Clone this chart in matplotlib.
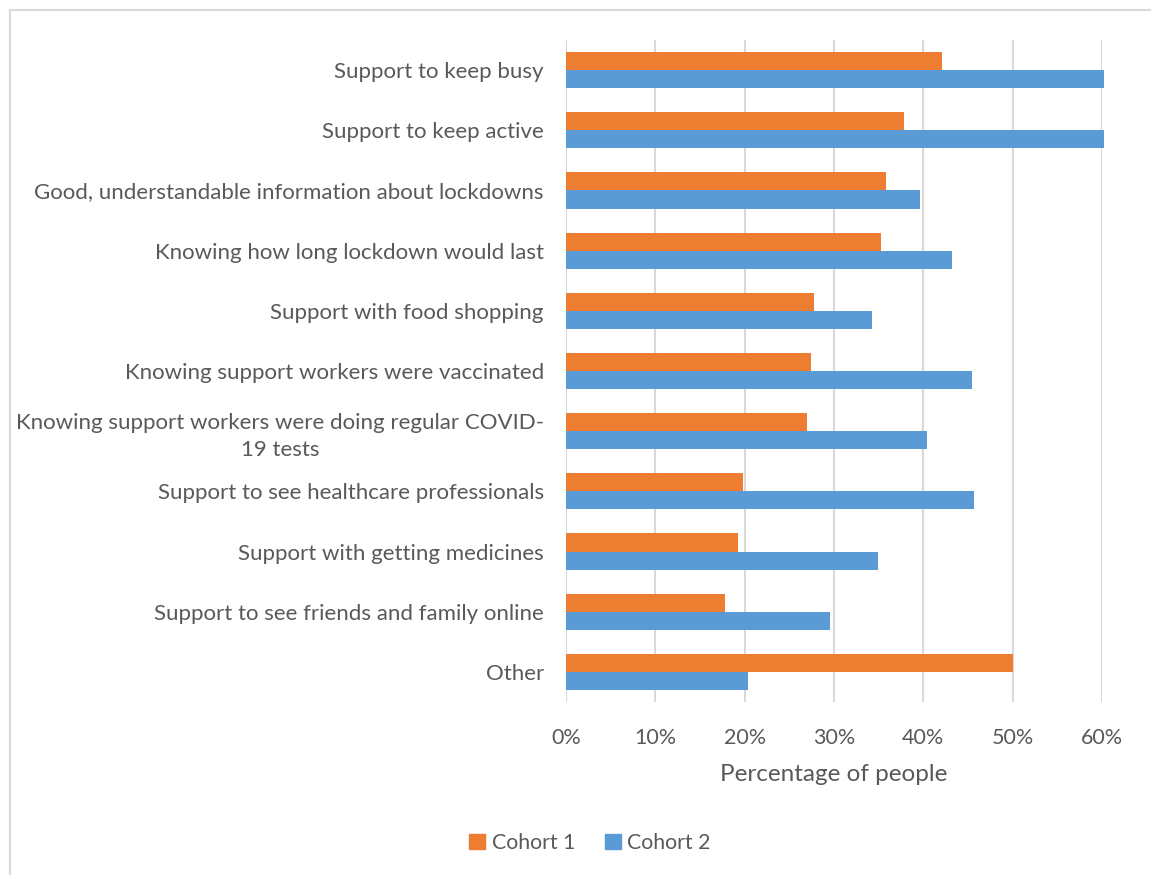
import matplotlib
matplotlib.use("Agg")
import matplotlib.pyplot as plt
from matplotlib.lines import Line2D
from matplotlib.patches import Patch
import numpy as np

categories = [
    "Support to keep busy",
    "Support to keep active",
    "Good, understandable information about lockdowns",
    "Knowing how long lockdown would last",
    "Support with food shopping",
    "Knowing support workers were vaccinated",
    "Knowing support workers were doing regular COVID-\n19 tests",
    "Support to see healthcare professionals",
    "Support with getting medicines",
    "Support to see friends and family online",
    "Other",
]
cohort1 = [42.1, 37.8, 35.8, 35.3, 27.8, 27.4, 27.0, 19.8, 19.2, 17.8, 50.0]
cohort2 = [60.2, 60.2, 39.6, 43.2, 34.3, 45.4, 40.4, 45.7, 34.9, 29.6, 20.4]
xticks = [0, 10, 20, 30, 40, 50, 60]
xtick_labels = ["0%", "10%", "20%", "30%", "40%", "50%", "60%"]
series_names = ["Cohort 1", "Cohort 2"]

ORANGE = "#ED7D31"
BLUE = "#5B9BD5"
TXT = "#595959"
GRID = "#D9D9D9"

plt.rcParams["font.family"] = ["Lato", "DejaVu Sans"]

W, H = 1151, 875
fig = plt.figure(figsize=(W / 100, H / 100), dpi=100)
ax = fig.add_axes([566 / W, 1 - 702 / H, (1102 - 566) / W, (702 - 40) / H])

y = np.arange(len(categories))
h = 0.3
ax.barh(y - h / 2, cohort1, height=h, color=ORANGE, zorder=3, clip_on=False)
ax.barh(y + h / 2, cohort2, height=h, color=BLUE, zorder=3, clip_on=False)

ax.set_xlim(0, 60)
ax.set_ylim(len(categories) - 0.5, -0.5)
ax.set_xticks(xticks)
ax.set_xticklabels(xtick_labels)
ax.set_yticks(y)
ax.set_yticklabels(categories, multialignment="center", linespacing=1.45)
ax.tick_params(axis="y", length=0, labelsize=16, colors=TXT, pad=16)
ax.tick_params(axis="x", length=0, labelsize=15.5, colors=TXT, pad=19)
for s in ax.spines.values():
    s.set_visible(False)
ax.grid(axis="x", color=GRID, linewidth=1.5, zorder=0)
ax.set_axisbelow(True)
ax.set_xlabel("Percentage of people", fontsize=17.5, color=TXT, labelpad=11)

handles = [Patch(color=ORANGE), Patch(color=BLUE)]
fig.legend(handles, series_names, loc="center", bbox_to_anchor=(590 / W, 1 - 843 / H),
           ncol=2, frameon=False, fontsize=15.3, labelcolor=TXT,
           handlelength=0.75, handleheight=0.75, handletextpad=0.3, columnspacing=1.4)

# chart border (top and left visible)
fig.add_artist(Line2D([10 / W, 10 / W], [0, 1 - 10 / H], color=GRID, linewidth=1.5))
fig.add_artist(Line2D([10 / W, 1], [1 - 10 / H, 1 - 10 / H], color=GRID, linewidth=1.5))

fig.savefig("out.png", dpi=100, facecolor="white")
